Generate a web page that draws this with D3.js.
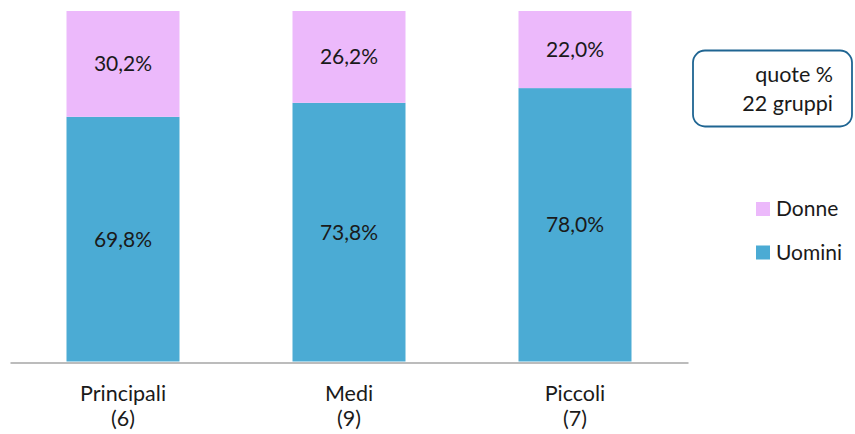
<!DOCTYPE html>
<html><head><meta charset="utf-8">
<script src="https://cdn.jsdelivr.net/npm/d3@7"></script>
<style>
html,body{margin:0;padding:0;background:#fff;}
svg{display:block;font-family:"Lato","Open Sans",sans-serif;}
</style></head>
<body>
<svg id="chart" width="855" height="434"></svg>
<script>
const categories = ["Principali", "Medi", "Piccoli"];
const categoryCounts = ["(6)", "(9)", "(7)"];
const uomini = [69.8, 73.8, 78.0];
const donne = [30.2, 26.2, 22.0];
const seriesNames = ["Donne", "Uomini"];
const boxLines = ["quote %", "22 gruppi"];

const colors = {Uomini: "#4BABD4", Donne: "#ECB9FB"};
const fmt = v => v.toFixed(1).replace(".", ",") + "%";

const svg = d3.select("#chart");
const x = d3.scaleBand().domain(categories).range([10, 688]).paddingInner(0.5).paddingOuter(0.25);
const y = d3.scaleLinear().domain([0, 100]).range([361.5, 11]);

const rows = categories.map((c, i) => ({cat: c, count: categoryCounts[i], Uomini: uomini[i], Donne: donne[i]}));
const stacked = d3.stack().keys(["Uomini", "Donne"])(rows);

const g = svg.append("g");
stacked.forEach(layer => {
  g.selectAll(null).data(layer).enter().append("rect")
    .attr("x", d => x(d.data.cat))
    .attr("width", x.bandwidth())
    .attr("y", d => y(d[1]))
    .attr("height", d => y(d[0]) - y(d[1]))
    .attr("fill", colors[layer.key]);
  g.selectAll(null).data(layer).enter().append("text")
    .attr("x", d => x(d.data.cat) + x.bandwidth() / 2)
    .attr("y", d => (y(d[0]) + y(d[1])) / 2)
    .attr("dy", "0.36em")
    .attr("text-anchor", "middle")
    .attr("font-size", 21)
    .attr("fill", "#1a1a1a")
    .text(d => fmt(d.data[layer.key]));
});

// axis
const axis = svg.append("g").attr("transform", "translate(0,362.5)")
  .call(d3.axisBottom(x).tickSize(0).tickFormat(""));
axis.select(".domain").attr("stroke", "#A6A6A6").attr("stroke-width", 1.5);

const labels = svg.append("g");
rows.forEach(r => {
  const t = labels.append("text")
    .attr("x", x(r.cat) + x.bandwidth() / 2)
    .attr("text-anchor", "middle")
    .attr("font-size", 21.5)
    .attr("fill", "#1a1a1a");
  t.append("tspan").attr("x", x(r.cat) + x.bandwidth() / 2).attr("y", 401).text(r.cat);
  t.append("tspan").attr("x", x(r.cat) + x.bandwidth() / 2).attr("y", 425.5).text(r.count);
});

// info box
svg.append("rect").attr("x", 693).attr("y", 50.5).attr("width", 159).attr("height", 76)
  .attr("rx", 12).attr("fill", "#fff").attr("stroke", "#1F6592").attr("stroke-width", 1.8);
boxLines.forEach((l, i) => {
  svg.append("text").attr("x", 833).attr("y", 81.5 + i * 29.5)
    .attr("text-anchor", "end").attr("font-size", 21.5).attr("fill", "#1a1a1a").text(l);
});

// legend
const leg = svg.append("g");
seriesNames.forEach((s, i) => {
  const yy = 202 + i * 43.5;
  leg.append("rect").attr("x", 756).attr("y", yy).attr("width", 14).attr("height", 14).attr("fill", colors[s]);
  leg.append("text").attr("x", 776).attr("y", yy + 14).attr("font-size", 21).attr("fill", "#1a1a1a").text(s);
});
</script>
</body></html>
